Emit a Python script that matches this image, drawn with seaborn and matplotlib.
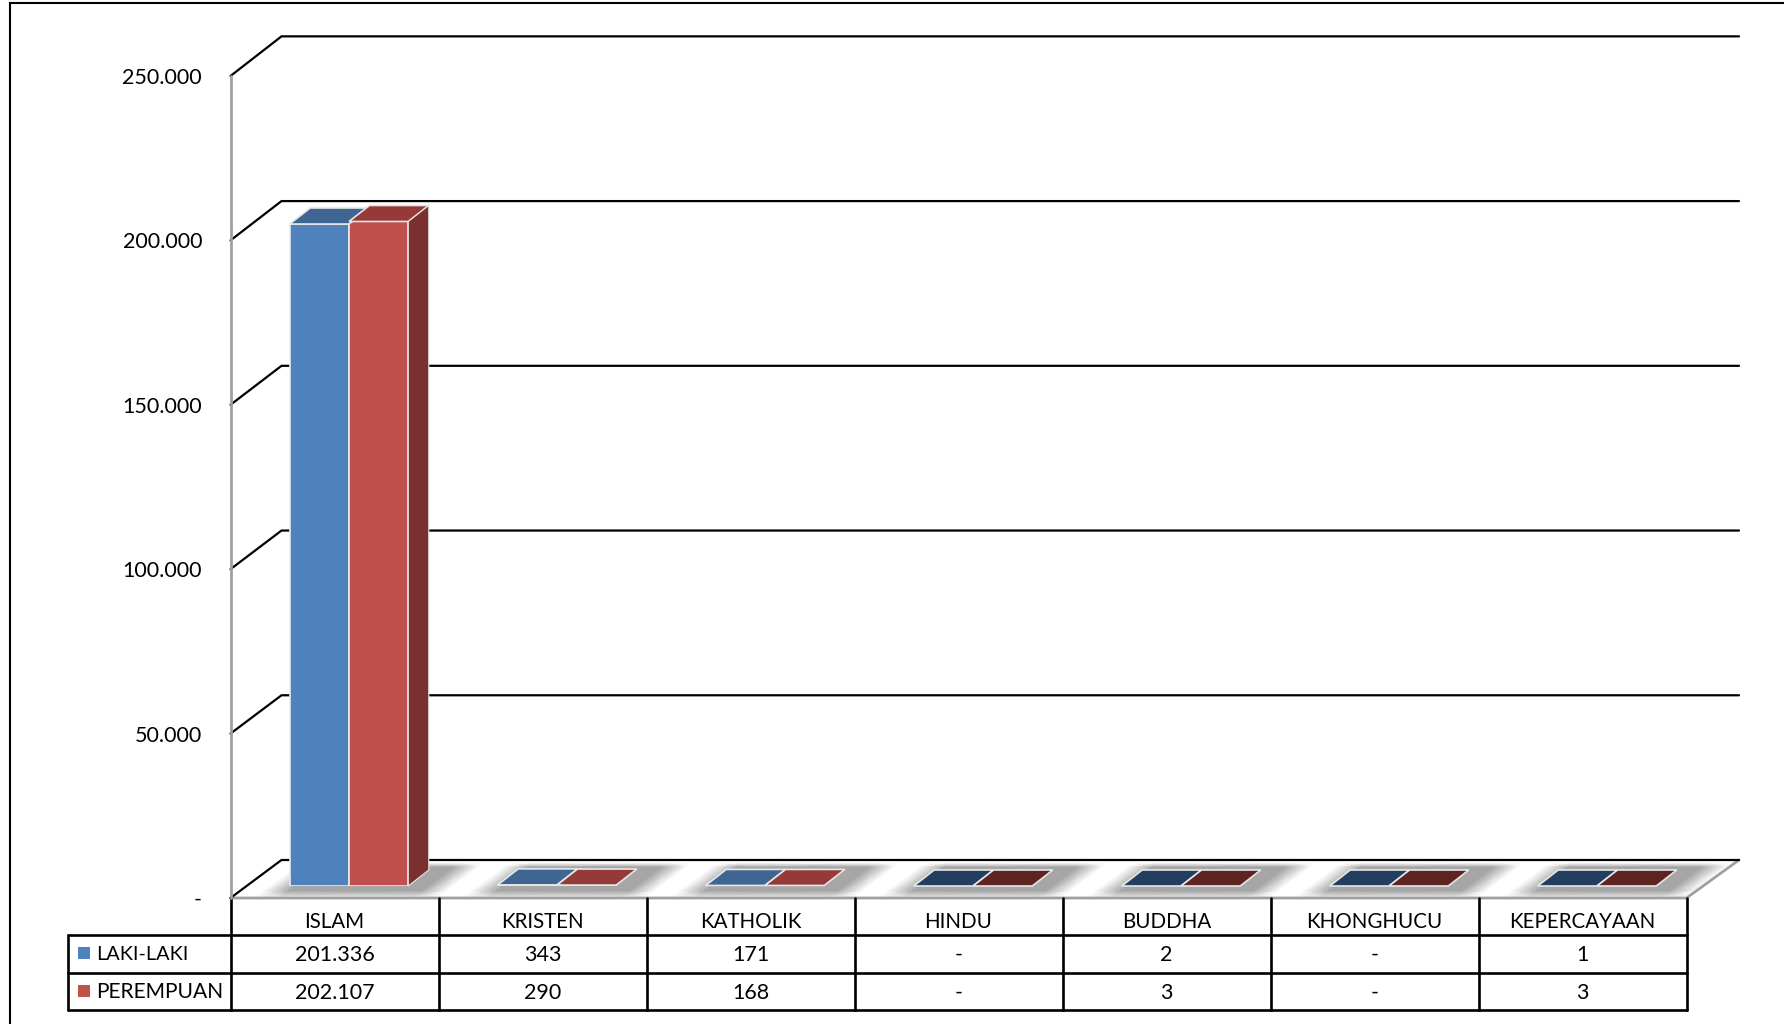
import numpy as np
import pandas as pd
import matplotlib
matplotlib.use('Agg')
import matplotlib.pyplot as plt
import seaborn as sns
from matplotlib.patches import Polygon
from matplotlib.transforms import Affine2D

categories = ['ISLAM', 'KRISTEN', 'KATHOLIK', 'HINDU', 'BUDDHA', 'KHONGHUCU', 'KEPERCAYAAN']
series_names = ['LAKI-LAKI', 'PEREMPUAN']
laki = [201336, 343, 171, 0, 2, 0, 1]
perempuan = [202107, 290, 168, 0, 3, 0, 3]
y_ticks = [0, 50000, 100000, 150000, 200000, 250000]

front_colors = ['#4F81BD', '#C0504D']
top_colors = ['#3F6592', '#953A38']
top_dark_colors = ['#243E5F', '#5E2422']
side_color = '#7A302E'

W, H = 1784, 1024
SLOT = 208.0          # width of one category in px
AX_LEFT = 245         # bar plane, left end
AX_BASE = 886         # bar plane, y of zero
AX_HEIGHT = 822       # 0 to 250.000 in px
PX_PER_VALUE = AX_HEIGHT / 250000
TABLE_LEFT = 68
COL_LEFT = 230.5
ROWS_Y = [898, 935, 973, 1010]


def fmt(v):
    if v == 0:
        return '-'
    return f'{v:,}'.replace(',', '.')


def px_x(px):
    return -0.5 + (px - AX_LEFT) / SLOT


def px_dy(px):
    return px / PX_PER_VALUE


sns.set_style('white')
plt.rcParams['font.family'] = ['Lato', 'DejaVu Sans']

fig = plt.figure(figsize=(W / 100, H / 100), dpi=100, facecolor='white')

# pixel axes for frame, floor and the table
bg = fig.add_axes([0, 0, 1, 1], zorder=0)
bg.set_xlim(0, W)
bg.set_ylim(H, 0)
bg.axis('off')

# frame
bg.plot([10, 10, W], [H, 3, 3], color='black', lw=1.5, solid_joinstyle='miter')

# floor with the grey shadow under every category
floor_pts = [(COL_LEFT, 898), (COL_LEFT + 51, 860), (1739, 860), (COL_LEFT + SLOT * 7, 898)]
u = np.array([0, 0.07, 0.19, 0.83, 0.95])
shade = np.array([1.0, 1.0, 0.65, 0.65, 1.0])
slot_u = np.concatenate([i + u for i in range(-1, 9)])
slot_v = np.tile(shade, 10)
rows = np.array([863, 867, 891, 896])
row_f = np.array([0.0, 1.0, 1.0, 0.4])
X = np.array([AX_LEFT + 12 + slot_u * SLOT + (885 - r) * 1.34 for r in rows])
Y = np.tile(rows[:, None], (1, len(slot_u)))
C = 1 - (1 - slot_v)[None, :] * row_f[:, None]
mesh = bg.pcolormesh(X, Y, C, cmap='gray', vmin=0, vmax=1, shading='gouraud')
mesh.set_clip_path(Polygon(floor_pts, transform=bg.transData))

bg.plot([COL_LEFT, COL_LEFT + SLOT * 7, 1739], [898, 898, 860], color='#A0A0A0', lw=2)

# table lines
col_x = [COL_LEFT + SLOT * i for i in range(8)]
for cx in col_x:
    bg.plot([cx, cx], [ROWS_Y[0], ROWS_Y[3]], color='black', lw=1.9)
bg.plot([TABLE_LEFT, TABLE_LEFT], [ROWS_Y[1], ROWS_Y[3]], color='black', lw=1.9)
for ry in ROWS_Y[1:]:
    bg.plot([TABLE_LEFT, col_x[-1]], [ry, ry], color='black', lw=1.9)

# table text
for i, name in enumerate(categories):
    cx = COL_LEFT + SLOT * (i + 0.5)
    bg.text(cx, 922, name, ha='center', va='center', fontsize=14.8, color='black')
    bg.text(cx, 955, fmt(laki[i]), ha='center', va='center', fontsize=15.5, color='black')
    bg.text(cx, 993, fmt(perempuan[i]), ha='center', va='center', fontsize=15.5, color='black')

for name, color, y in zip(series_names, front_colors, [953, 991]):
    bg.add_patch(plt.Rectangle((78, y - 6), 12, 12, color=color, lw=0))
for name, y, size in zip(series_names, [954, 992], [14.3, 15.1]):
    bg.text(96.5, y, name, ha='left', va='center', fontsize=size, color='black')

# main axes, placed on the plane of the bars front
ax = fig.add_axes([AX_LEFT / W, (H - AX_BASE) / H, SLOT * 7 / W, AX_HEIGHT / H], zorder=1)
ax.patch.set_visible(False)

df = pd.DataFrame({
    'agama': categories * 2,
    'jenis': [series_names[0]] * 7 + [series_names[1]] * 7,
    'jumlah': laki + perempuan,
})
sns.barplot(data=df, x='agama', y='jumlah', hue='jenis', palette=front_colors, saturation=1,
            width=0.57, gap=0, dodge=True, legend=False, edgecolor='#E6ECF4', linewidth=1.2,
            zorder=3, ax=ax)

ax.set_xlim(-0.5, 6.5)
ax.set_ylim(0, 250000)
ax.set_xlabel('')
ax.set_ylabel('')
ax.set_xticks([])
ax.set_yticks(y_ticks)
ax.set_yticklabels([fmt(v) if v else '-' for v in y_ticks], fontsize=15.5, color='black')
ax.tick_params(axis='y', length=0, pad=0)
for s in ax.spines.values():
    s.set_visible(False)
for lab in ax.get_yticklabels():
    lab.set_transform(lab.get_transform() + Affine2D().translate(-43, -12))

# walls: gridline runs up the left wall then along the back
wall_x = [px_x(COL_LEFT), px_x(COL_LEFT + 51), px_x(1739)]
front_shift = px_dy(-12)
back_shift = px_dy(26)
back_scale = 1.002    # back wall comes out slightly taller than the front
for v in y_ticks:
    back_y = v * back_scale + back_shift
    ax.plot(wall_x, [v + front_shift, back_y, back_y],
            color='black', lw=1.6, clip_on=False, zorder=1)
ax.plot([wall_x[0], wall_x[0]], [front_shift, 250000 + front_shift],
        color='#A0A0A0', lw=2, clip_on=False, zorder=1)

# fake 3d faces of the bars
dx = 20.5 / SLOT
dy = px_dy(16)
for k, cont in enumerate(ax.containers):
    for bar in cont:
        x0, w, h = bar.get_x(), bar.get_width(), bar.get_height()
        top_col = top_colors[k] if h >= 100 else top_dark_colors[k]
        ax.add_patch(Polygon([(x0, h), (x0 + w, h), (x0 + w + dx, h + dy), (x0 + dx, h + dy)],
                             facecolor=top_col, edgecolor='#E6E6E6', lw=1.2, zorder=4 + k,
                             clip_on=False))
        if k == 1 and h > px_dy(5):
            ax.add_patch(Polygon([(x0 + w, 0), (x0 + w + dx, dy), (x0 + w + dx, h + dy), (x0 + w, h)],
                                 facecolor=side_color, edgecolor='#E6E6E6', lw=0.8, zorder=5,
                                 clip_on=False))

fig.savefig('out.png', dpi=100, facecolor='white')
